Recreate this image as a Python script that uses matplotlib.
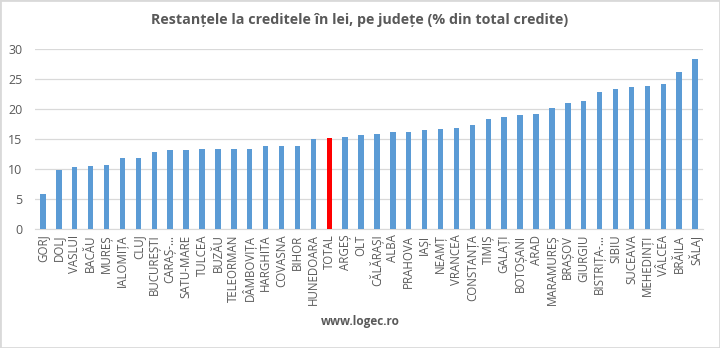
import matplotlib
matplotlib.use("Agg")
import matplotlib.pyplot as plt
from matplotlib.patches import Rectangle

plt.rcParams['font.family'] = ['Open Sans', 'DejaVu Sans']

categories = ["GORJ", "DOLJ", "VASLUI", "BACĂU", "MUREȘ", "IALOMIȚA", "CLUJ",
              "BUCUREȘTI", "CARAȘ-…", "SATU-MARE", "TULCEA", "BUZĂU", "TELEORMAN",
              "DÂMBOVIȚA", "HARGHITA", "COVASNA", "BIHOR", "HUNEDOARA", "TOTAL",
              "ARGEȘ", "OLT", "CĂLĂRAȘI", "ALBA", "PRAHOVA", "IAȘI", "NEAMȚ",
              "VRANCEA", "CONSTANȚA", "TIMIȘ", "GALAȚI", "BOTOȘANI", "ARAD",
              "MARAMUREȘ", "BRAȘOV", "GIURGIU", "BISTRIȚA-…", "SIBIU", "SUCEAVA",
              "MEHEDINȚI", "VÂLCEA", "BRĂILA", "SĂLAJ"]
values = [5.8, 9.9, 10.3, 10.5, 10.7, 11.9, 11.9, 12.8, 13.1, 13.2, 13.3, 13.3,
          13.3, 13.4, 13.8, 13.8, 13.9, 15.0, 15.1, 15.4, 15.6, 15.9, 16.2, 16.2,
          16.5, 16.7, 16.9, 17.3, 18.3, 18.7, 19.0, 19.2, 20.2, 21.05, 21.3, 22.8,
          23.3, 23.7, 23.9, 24.1, 26.2, 28.3]
yticks = [0, 5, 10, 15, 20, 25, 30]
highlight = "TOTAL"

blue = "#5B9BD5"
red = "#FF0000"
textc = "#595959"
gridc = "#D9D9D9"

fig = plt.figure(figsize=(7.2, 3.48), dpi=100)
ax = fig.add_axes([35/720, 1 - 229/348, (703-35)/720, (229-49)/348])

colors = [red if c == highlight else blue for c in categories]
x = list(range(len(categories)))
ax.bar(x, values, width=0.34, color=colors, zorder=3)

ax.set_xlim(-0.5, len(categories) - 0.5)
ax.set_ylim(0, 30)
ax.set_yticks(yticks)
ax.set_yticklabels([str(t) for t in yticks], fontsize=9, color=textc)
ax.set_xticks(x)
ax.set_xticklabels(categories, rotation=90, fontsize=8.3, color=textc)
ax.tick_params(axis='both', length=0, pad=4)
ax.tick_params(axis='y', pad=9)
ax.grid(axis='y', color=gridc, linewidth=0.9, zorder=0)
for s in ['top', 'right', 'left']:
    ax.spines[s].set_visible(False)
ax.spines['bottom'].set_color(gridc)

fig.text(0.5, 1 - 20/348, "Restanțele la creditele în lei, pe județe (% din total credite)",
         ha='center', va='center', fontsize=10.3, color=textc, fontweight='bold')
fig.text(0.5, 1 - 322/348, "www.logec.ro", ha='center', va='center',
         fontsize=8.5, color=textc, fontweight='bold')

fig.patches.append(Rectangle((0, 0), 1, 1, transform=fig.transFigure, fill=False,
                             edgecolor=gridc, linewidth=2))

fig.savefig("out.png", dpi=100)
